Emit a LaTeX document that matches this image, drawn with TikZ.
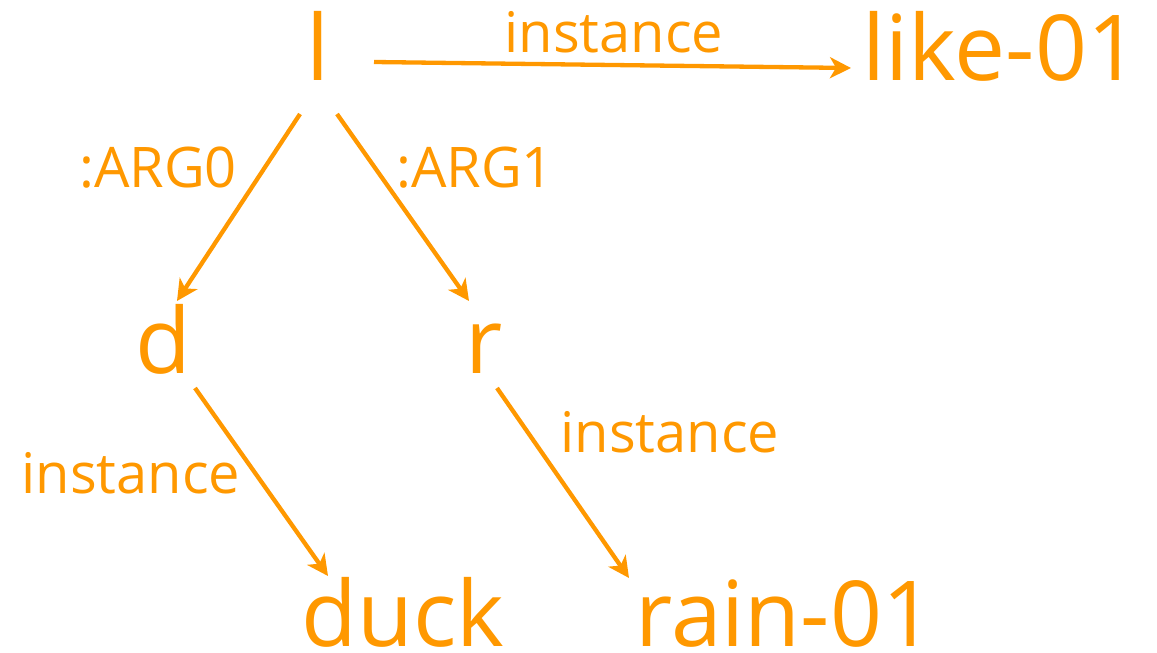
\documentclass[tikz,border=0pt]{standalone}
\usepackage{fontspec}
\setmainfont{Open Sans}
\usetikzlibrary{arrows.meta}
\definecolor{amr}{RGB}{255,152,0}
\begin{document}
\begin{tikzpicture}[x=1pt,y=-1pt,
  big/.style={anchor=base,inner sep=0pt,text depth=0pt,text=amr,font=\fontsize{91}{93}\selectfont},
  lbl/.style={anchor=base,inner sep=0pt,text=amr,font=\fontsize{56}{60}\selectfont},
  edge/.style={draw=amr,line width=4.3pt,-{Stealth[length=21pt,width=21pt,inset=6pt]}}]
\useasboundingbox (0,0) rectangle (1157,653);
\node[big] (l) at (318,80) {l};
\node[big] (like) at (1001,80) {like-01};
\node[big] (d) at (163,373) {d};
\node[big] (r) at (484,373) {r};
\node[big] (duck) at (403,646) {duck};
\node[big] (rain) at (785,646) {rain-01};
\node[lbl] (i1) at (614,52) {instance};
\node[lbl] (a0) at (158,187) {:ARG0};
\node[lbl] (a1) at (475,187) {:ARG1};
\node[lbl] (i2) at (131,493) {instance};
\node[lbl] (i3) at (670,452) {instance};
\coordinate (lA) at (374,62);
\coordinate (likeA) at (851,68);
\coordinate (lB) at (300,114);
\coordinate (dB) at (177,301);
\coordinate (lC) at (337,114);
\coordinate (rC) at (469,301);
\coordinate (dD) at (195,388);
\coordinate (duckD) at (328,576);
\coordinate (rE) at (497,388);
\coordinate (rainE) at (629,578);
\draw[edge] (lA) -- (likeA);
\draw[edge] (lB) -- (dB);
\draw[edge] (lC) -- (rC);
\draw[edge] (dD) -- (duckD);
\draw[edge] (rE) -- (rainE);
\end{tikzpicture}
\end{document}
